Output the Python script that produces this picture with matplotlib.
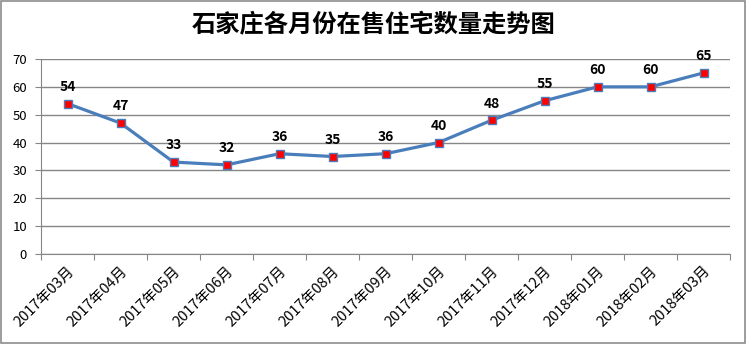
import matplotlib
matplotlib.use("Agg")
import matplotlib.pyplot as plt
from matplotlib.patches import Rectangle

plt.rcParams['font.family'] = ['Noto Sans CJK SC', 'DejaVu Sans']

title = "石家庄各月份在售住宅数量走势图"
months = ["2017年03月", "2017年04月", "2017年05月", "2017年06月", "2017年07月",
          "2017年08月", "2017年09月", "2017年10月", "2017年11月", "2017年12月",
          "2018年01月", "2018年02月", "2018年03月"]
values = [54, 47, 33, 32, 36, 35, 36, 40, 48, 55, 60, 60, 65]
yticks = [0, 10, 20, 30, 40, 50, 60, 70]

fig = plt.figure(figsize=(7.47, 3.44), dpi=100)
fig.patches.append(Rectangle((0.002, 0.004), 0.995, 0.992, transform=fig.transFigure,
                             fill=False, edgecolor='#8c8c8c', linewidth=1.2))
ax = fig.add_axes([41/747, 90/344, 689/747, 195/344])

x = list(range(len(months)))
ax.plot(x, values, color='#4a7ebb', linewidth=2.3, marker='s', markersize=5.2,
        markerfacecolor='#ff0000', markeredgecolor='#4a7ebb', markeredgewidth=1, zorder=3)
for xi, v in zip(x, values):
    ax.annotate(str(v), (xi, v), xytext=(0, 7), textcoords='offset points',
                ha='center', va='bottom', fontsize=10, fontweight='bold', color='#000000')

ax.set_xlim(-0.5, len(months) - 0.5)
ax.set_ylim(0, 70)
ax.set_yticks(yticks)
ax.set_yticklabels([str(t) for t in yticks], fontsize=9.5)
ax.yaxis.grid(True, color='#868686', linewidth=1)
ax.set_axisbelow(True)

ax.set_xticks([i - 0.5 for i in range(len(months) + 1)], minor=False)
ax.set_xticklabels([])
ax.set_xticks(x, minor=True)
ax.set_xticklabels(months, minor=True, rotation=45, ha='right', rotation_mode='anchor', fontsize=10.5)
ax.tick_params(axis='x', which='major', length=4, color='#868686')
ax.tick_params(axis='x', which='minor', length=0, pad=7)
ax.tick_params(axis='y', length=4, color='#868686', pad=6)

for s in ['top', 'right']:
    ax.spines[s].set_visible(False)
for s in ['left', 'bottom']:
    ax.spines[s].set_color('#868686')

fig.text(0.5, 0.925, title, ha='center', va='center', fontsize=17.5, fontweight='bold')

fig.savefig("out.png", dpi=100)
